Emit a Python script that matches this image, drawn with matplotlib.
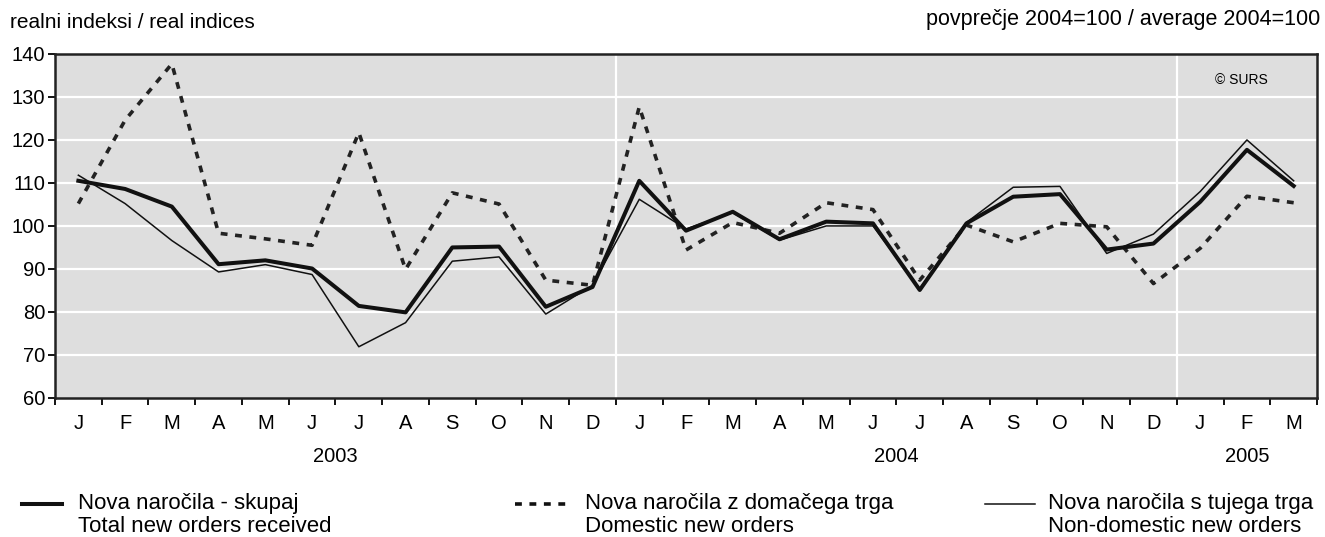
import matplotlib
matplotlib.use("Agg")
import matplotlib.pyplot as plt
import numpy as np
from matplotlib.lines import Line2D

plt.rcParams['font.family'] = ['Liberation Sans', 'DejaVu Sans']

# month labels J 2003 .. M 2005
months = ["J", "F", "M", "A", "M", "J", "J", "A", "S", "O", "N", "D",
          "J", "F", "M", "A", "M", "J", "J", "A", "S", "O", "N", "D",
          "J", "F", "M"]
years = ["2003", "2004", "2005"]
year_centers = [5.5, 17.5, 25]

total = [110.5, 108.6, 104.5, 91.1, 92.0, 90.1, 81.4, 79.9, 95.0, 95.2, 81.2, 85.8,
         110.5, 98.9, 103.3, 96.9, 101.0, 100.6, 85.1, 100.6, 106.8, 107.4, 94.5, 95.9,
         105.6, 117.7, 109.3]
domestic = [105.2, 124.6, 137.7, 98.3, 97.0, 95.5, 121.7, 89.9, 107.7, 105.1, 87.4, 86.2,
            127.7, 94.4, 100.8, 98.3, 105.4, 103.8, 87.4, 100.2, 96.3, 100.6, 99.8, 86.6,
            94.8, 106.9, 105.4]
foreign = [111.8, 105.2, 96.6, 89.3, 91.0, 88.7, 71.9, 77.5, 91.8, 92.8, 79.5, 86.2,
           106.2, 99.3, 103.1, 96.7, 100.0, 100.0, 85.4, 100.8, 109.0, 109.2, 93.6, 98.1,
           108.0, 120.0, 110.5]

labels = ["Nova naročila - skupaj\nTotal new orders received",
          "Nova naročila z domačega trga\nDomestic new orders",
          "Nova naročila s tujega trga\nNon-domestic new orders"]

fig = plt.figure(figsize=(13.25, 5.37), dpi=100)
ax = fig.add_axes([0.0415, 0.259, 0.9525, 0.6405])
ax.set_facecolor("#dedede")

x = np.arange(len(months))
ax.set_xlim(-0.5, len(months) - 0.5)
ax.set_ylim(60, 140)

# grid
for v in range(70, 140, 10):
    ax.axhline(v, color="white", lw=1.6, zorder=1)
for b in [11.5, 23.5]:
    ax.axvline(b, color="white", lw=1.6, zorder=1)

ax.plot(x, foreign, color="#111111", lw=1.1, zorder=3)
ax.plot(x, domestic, color="#222222", lw=2.6, dashes=(1.9, 2.1), zorder=2)
ax.plot(x, total, color="#111111", lw=2.9, zorder=4)

for s in ax.spines.values():
    s.set_linewidth(1.8)
    s.set_color("#222222")

ax.set_yticks(range(60, 141, 10))
ax.tick_params(axis="y", direction="out", length=5, width=1.3, labelsize=14.5, pad=2)
ax.set_xticks(np.arange(-0.5, len(months), 1.0))
ax.set_xticklabels([])
ax.tick_params(axis="x", direction="out", length=5, width=1.3)
for i, m in enumerate(months):
    ax.text(i, -0.073, m, transform=ax.get_xaxis_transform(), ha="center", va="center", fontsize=14.5)
for c, yr in zip(year_centers, years):
    ax.text(c, -0.17, yr, transform=ax.get_xaxis_transform(), ha="center", va="center", fontsize=14.5)

ax.text(0.94, 0.925, "© SURS", transform=ax.transAxes, ha="center", va="center", fontsize=10)

fig.text(10 / 1325, 1 - 22 / 537, "realni indeksi / real indices", ha="left", va="center", fontsize=15)
fig.text(1320 / 1325, 1 - 20 / 537, "povprečje 2004=100 / average 2004=100", ha="right", va="center", fontsize=15.5)

# legend drawn by hand
styles = [dict(lw=2.9), dict(lw=2.6, dashes=(1.9, 2.1)), dict(lw=1.1)]
line_x = [(22, 62), (515, 570), (985, 1035)]
text_x = [78, 585, 1048]
for (x0, x1), tx, st, lab in zip(line_x, text_x, styles, labels):
    fig.add_artist(Line2D([x0 / 1325, x1 / 1325], [1 - 504 / 537] * 2, color="#111111",
                          transform=fig.transFigure, **st))
    l1, l2 = lab.split("\n")
    fig.text(tx / 1325, 1 - 504 / 537, l1, ha="left", va="center", fontsize=16)
    fig.text(tx / 1325, 1 - 526 / 537, l2, ha="left", va="center", fontsize=16)

fig.savefig("out.png", dpi=100)
